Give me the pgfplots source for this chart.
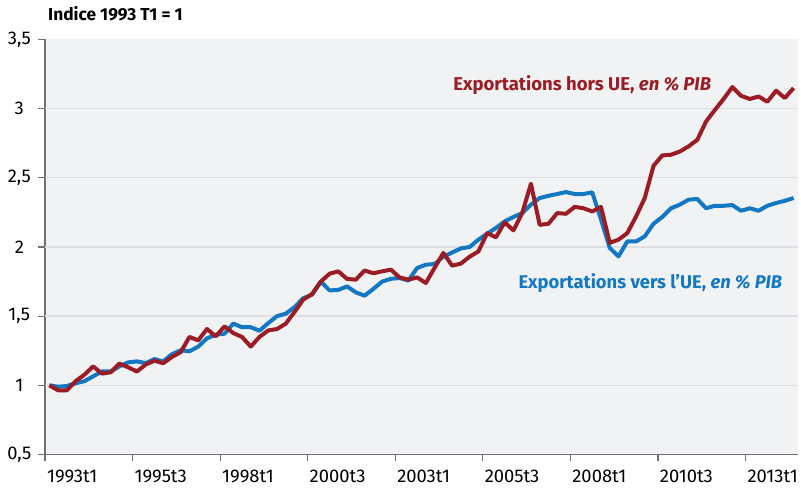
\documentclass[border=0pt]{standalone}
\usepackage{pgfplots}
\pgfplotsset{compat=1.18}
\usepackage{pgfplotstable}
\usepackage{fontspec}
\setmainfont{Fira Sans}

\definecolor{ueblue}{RGB}{18,120,196}
\definecolor{horsred}{RGB}{155,28,36}
\definecolor{plotbg}{RGB}{241,242,244}
\definecolor{gridgray}{RGB}{222,223,226}
\definecolor{axisgray}{RGB}{110,111,114}

% k = quarter index (0 = 1993t1), ue = vers l'UE, hors = hors UE
\pgfplotstableread{
k ue hors
0 1.000 1.000
1 0.990 0.964
2 0.995 0.964
3 1.015 1.030
4 1.030 1.077
5 1.065 1.137
6 1.100 1.085
7 1.100 1.094
8 1.137 1.157
9 1.166 1.130
10 1.173 1.100
11 1.160 1.150
12 1.190 1.178
13 1.173 1.160
14 1.225 1.205
15 1.253 1.240
16 1.246 1.350
17 1.280 1.325
18 1.340 1.407
19 1.366 1.354
20 1.373 1.426
21 1.446 1.378
22 1.420 1.350
23 1.420 1.280
24 1.395 1.350
25 1.450 1.397
26 1.500 1.407
27 1.518 1.446
28 1.565 1.530
29 1.630 1.620
30 1.655 1.660
31 1.750 1.750
32 1.686 1.807
33 1.690 1.824
34 1.715 1.769
35 1.672 1.764
36 1.648 1.830
37 1.697 1.810
38 1.750 1.824
39 1.770 1.836
40 1.776 1.780
41 1.757 1.764
42 1.848 1.780
43 1.872 1.740
44 1.877 1.850
45 1.930 1.957
46 1.960 1.865
47 1.990 1.880
48 2.000 1.930
49 2.053 1.968
50 2.096 2.100
51 2.137 2.070
52 2.185 2.178
53 2.217 2.120
54 2.245 2.245
55 2.306 2.457
56 2.354 2.160
57 2.370 2.168
58 2.383 2.245
59 2.397 2.240
60 2.383 2.290
61 2.383 2.280
62 2.395 2.257
63 2.200 2.290
64 1.993 2.030
65 1.932 2.053
66 2.040 2.100
67 2.040 2.220
68 2.077 2.354
69 2.168 2.587
70 2.217 2.662
71 2.280 2.667
72 2.306 2.690
73 2.342 2.727
74 2.347 2.775
75 2.280 2.907
76 2.298 2.990
77 2.298 3.070
78 2.303 3.156
79 2.262 3.093
80 2.280 3.070
81 2.262 3.088
82 2.298 3.050
83 2.318 3.130
84 2.334 3.077
85 2.354 3.149
}\exports

\begin{document}
\begin{tikzpicture}
\begin{axis}[
    at={(0,0)}, anchor=south west,
    scale only axis,
    width=564.75pt, height=311.25pt,
    xmin=-0.5, xmax=85.5,
    ymin=0.5, ymax=3.5,
    axis x line*=bottom, axis y line*=left,
    axis line style={axisgray, line width=1.1pt, -},
    axis background/.style={fill=plotbg},
    tick align=outside,
    major tick length=5.25pt,
    tick style={axisgray, line width=0.9pt},
    xtick={-0.5,9.5,...,79.5},
    xticklabels={1993t1,1995t3,1998t1,2000t3,2003t1,2005t3,2008t1,2010t3,2013t1},
    xticklabel style={anchor=north west, xshift=-2pt, yshift=-3pt},
    ytick={0.5,1,1.5,2,2.5,3,3.5},
    yticklabels={{0,5},1,{1,5},2,{2,5},3,{3,5}},
    yticklabel style={anchor=center, xshift=-14pt},
    tick label style={font=\fontsize{13.8}{15}\selectfont, black},
    clip=false,
]

% horizontal grid lines
\foreach \g in {1,1.5,2,2.5,3} {
  \edef\tmp{\noexpand\draw[gridgray, line width=1pt] (axis cs:-0.5,\g) -- (axis cs:85.5,\g);}
  \tmp
}

\addplot[color=ueblue, line width=3pt, line join=round] table[x=k, y=ue] {\exports};
\addplot[color=horsred, line width=3pt, line join=round] table[x=k, y=hors] {\exports};

\node[anchor=west, inner sep=0pt, font=\bfseries\fontsize{13}{15}\selectfont]
  at (axis cs:-0.16,3.686) {Indice 1993 T1 = 1};
\node[anchor=west, inner sep=0pt, text=horsred, font=\bfseries\fontsize{13.9}{16}\selectfont]
  at (axis cs:46.1,3.17) {Exportations hors UE, \textit{en \% PIB}};
\node[anchor=west, inner sep=0pt, text=ueblue, font=\bfseries\fontsize{13.8}{16}\selectfont]
  at (axis cs:53.55,1.742) {Exportations vers l\symbol{39}UE, \textit{en \% PIB}};
\end{axis}
\pgfresetboundingbox
\path (-33.75pt,-27.375pt) rectangle (567pt,340.875pt);
\end{tikzpicture}
\end{document}
